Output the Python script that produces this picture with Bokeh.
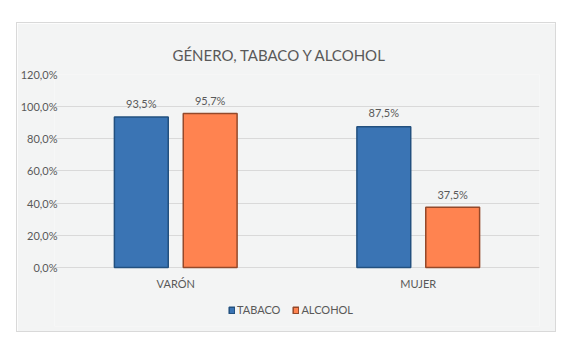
from bokeh.plotting import figure
from bokeh.models import FactorRange, Range1d, Legend, LegendItem, FixedTicker, ColumnDataSource
from bokeh.transform import dodge
from bokeh.core.properties import value
from bokeh.embed import file_html
from bokeh.resources import INLINE

# ---- data ----
categories = ["VARÓN", "MUJER"]
tabaco = [93.5, 87.5]
alcohol = [95.7, 37.5]
tabaco_labels = ["93,5%", "87,5%"]
alcohol_labels = ["95,7%", "37,5%"]
series_names = ["TABACO", "ALCOHOL"]
y_ticks = [0, 20, 40, 60, 80, 100, 120]
y_tick_labels = ["0,0%", "20,0%", "40,0%", "60,0%", "80,0%", "100,0%", "120,0%"]
title_text = "GÉNERO, TABACO Y ALCOHOL"

FONT = "Lato"
TXT = "#595959"
BG = "#f3f4f4"

src = ColumnDataSource(dict(cat=categories, tabaco=tabaco, alcohol=alcohol,
                            tl=tabaco_labels, al=alcohol_labels))

# frame extends below zero so the category labels and legend sit inside it
p = figure(x_range=FactorRange(*categories), y_range=Range1d(-36.7, 120),
           width=538, height=308, output_backend="svg", toolbar_location=None,
           title=title_text, min_border_left=37, min_border_right=16,
           min_border_top=51, min_border_bottom=5)
p.margin = (23, 28, 21, 17)
p.styles = {"outline": "1px solid #d9d9d9"}
p.background_fill_color = BG
p.border_fill_color = BG
p.outline_line_color = None

p.title.align = "left"
p.title.offset = 118
p.title.text_font = FONT
p.title.text_font_size = "15px"
p.title.text_font_style = "normal"
p.title.text_color = TXT
p.title.standoff = 22

r1 = p.vbar(x=dodge("cat", -0.142, range=p.x_range), top="tabaco", width=0.222,
            source=src, fill_color="#3a74b4", line_color="#22507f", line_width=1.5)
r2 = p.vbar(x=dodge("cat", 0.142, range=p.x_range), top="alcohol", width=0.222,
            source=src, fill_color="#ff8350", line_color="#94492a", line_width=1.5)

p.text(x=dodge("cat", -0.142, range=p.x_range), y="tabaco", text="tl", source=src,
       text_align="center", text_baseline="middle", y_offset=-14,
       text_font=value(FONT), text_font_size="11px", text_color=TXT)
p.text(x=dodge("cat", 0.142, range=p.x_range), y="alcohol", text="al", source=src,
       text_align="center", text_baseline="middle", y_offset=-13,
       text_font=value(FONT), text_font_size="11px", text_color=TXT)

# category labels under the zero line
p.text(x="cat", y=0, text="cat", source=src,
       text_align="center", text_baseline="middle", y_offset=16,
       text_font=value(FONT), text_font_size="11px", text_color=TXT)

p.yaxis.ticker = FixedTicker(ticks=y_ticks)
p.yaxis.major_label_overrides = {t: l for t, l in zip(y_ticks, y_tick_labels)}
p.yaxis.axis_line_color = None
p.yaxis.major_tick_line_color = None
p.yaxis.minor_tick_line_color = None
p.yaxis.major_tick_out = 0
p.yaxis.major_label_standoff = -3
p.yaxis.major_label_text_baseline = "bottom"
p.yaxis.major_label_text_font = FONT
p.yaxis.major_label_text_font_size = "11px"
p.yaxis.major_label_text_color = TXT

p.xaxis.visible = False

p.xgrid.grid_line_color = None
p.ygrid.grid_line_color = "#d9d9d9"
p.ygrid.grid_line_width = 1

legend = Legend(items=[LegendItem(label=series_names[0], renderers=[r1]),
                       LegendItem(label=series_names[1], renderers=[r2])],
                orientation="horizontal", location=(174, 10),
                glyph_width=7, glyph_height=8, label_standoff=2, spacing=12,
                label_height=12, padding=0, margin=0, border_line_color=None,
                background_fill_alpha=0,
                label_text_font=FONT, label_text_font_size="11px",
                label_text_color=TXT)
p.add_layout(legend)

open("out.html", "w").write(file_html(p, INLINE))
